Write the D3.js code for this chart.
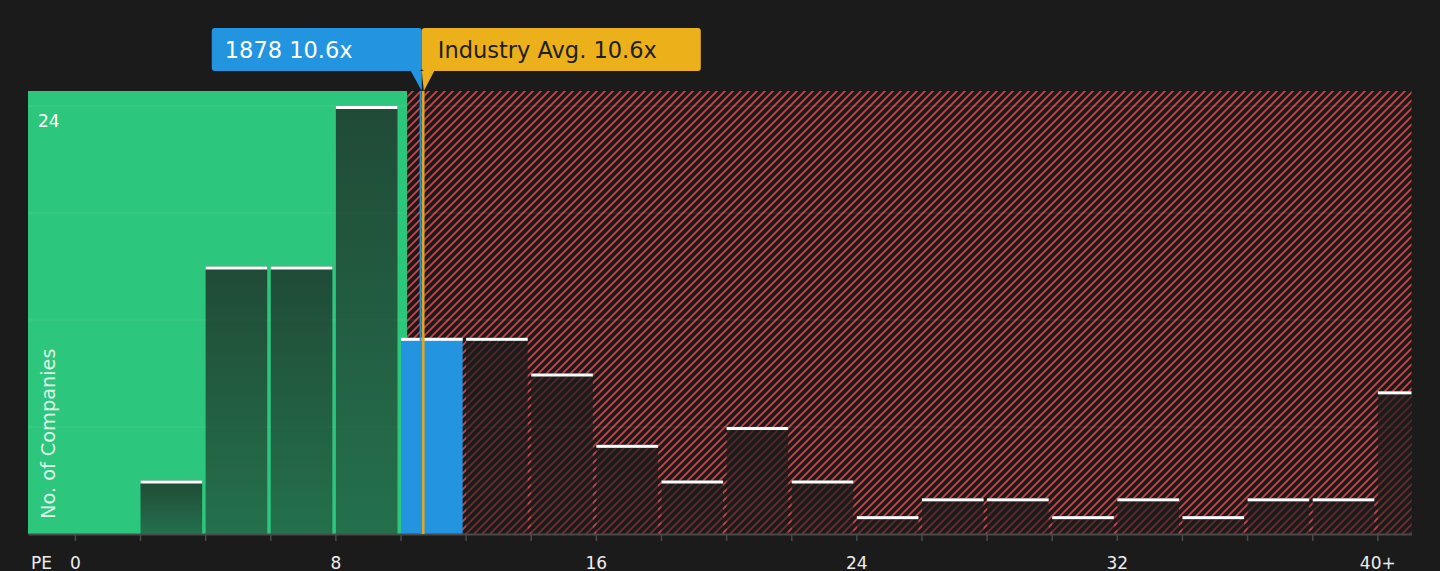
<!DOCTYPE html>
<html>
<head>
<meta charset="utf-8">
<script src="https://cdn.jsdelivr.net/npm/d3@7"></script>
<style>
  body { margin: 0; background: #1b1b1b; }
  svg { display: block; font-family: "DejaVu Sans", sans-serif; }
</style>
</head>
<body>
<svg id="chart" width="1440" height="571"></svg>
<script>
// PE bins (start of each 2-wide bin) and number of companies in each
const binStarts = [0, 2, 4, 6, 8, 10, 12, 14, 16, 18, 20, 22, 24, 26, 28, 30, 32, 34, 36, 38, 40];
const binCounts = [0, 3, 15, 15, 24, 11, 11, 9, 5, 3, 6, 3, 1, 2, 2, 1, 2, 1, 2, 2, 8];
const binWidth = 2;

const xTickValues = [0, 8, 16, 24, 32, 40];
const xTickLabels = ["0", "8", "16", "24", "32", "40+"];
const yGridValues = [6, 12, 18, 24];
const yLabelValues = [24];

const companyName = "1878";
const companyPE = 10.62;
const companyLabel = "1878 10.6x";
const industryPE = 10.7;
const industryLabel = "Industry Avg. 10.6x";
const fairLimit = 10.2; // end of the green zone

const svg = d3.select("#chart");
const plot = { left: 28, right: 1411.5, top: 91, bottom: 534 };

const x = d3.scaleLinear().domain([-1.44, 41.05]).range([plot.left, plot.right]);
const y = d3.scaleLinear().domain([0, 24.84]).range([plot.bottom, plot.top]);

// defs: hatch pattern, clip and bar gradient
const defs = svg.append("defs");
const hatch = defs.append("pattern")
  .attr("id", "hatch")
  .attr("patternUnits", "userSpaceOnUse")
  .attr("width", 8)
  .attr("height", 8);
hatch.append("rect").attr("width", 8).attr("height", 8).attr("fill", "#1b1b1b");
hatch.append("path")
  .attr("d", "M-2,2 L2,-2 M0,8 L8,0 M6,10 L10,6")
  .attr("stroke", "#c8474c")
  .attr("stroke-width", 1.7);

const grad = defs.append("linearGradient")
  .attr("id", "barGrad")
  .attr("x1", 0).attr("y1", 0).attr("x2", 0).attr("y2", 1);
grad.append("stop").attr("offset", "0%").attr("stop-color", "#1b1b1b").attr("stop-opacity", 0.72);
grad.append("stop").attr("offset", "100%").attr("stop-color", "#1b1b1b").attr("stop-opacity", 0.5);

defs.append("clipPath").attr("id", "plotClip")
  .append("rect")
  .attr("x", plot.left).attr("y", plot.top)
  .attr("width", plot.right - plot.left).attr("height", plot.bottom - plot.top);

// background zones
svg.append("rect")
  .attr("x", x(fairLimit)).attr("y", plot.top)
  .attr("width", plot.right - x(fairLimit)).attr("height", plot.bottom - plot.top)
  .attr("fill", "url(#hatch)");
svg.append("rect")
  .attr("x", plot.left).attr("y", plot.top)
  .attr("width", x(fairLimit) - plot.left).attr("height", plot.bottom - plot.top)
  .attr("fill", "#2dc67d");

// gridlines
svg.append("g")
  .selectAll("line")
  .data(yGridValues)
  .join("line")
  .attr("x1", plot.left).attr("x2", plot.right)
  .attr("y1", (d) => y(d)).attr("y2", (d) => y(d))
  .attr("stroke", "#ffffff")
  .attr("stroke-opacity", 0.1)
  .attr("stroke-width", 1);

// bars
const bins = binStarts.map((s, i) => ({ start: s, count: binCounts[i] }))
  .filter((d) => d.count > 0);
const isCompany = (d) => companyPE >= d.start && companyPE < d.start + binWidth;

const barG = svg.append("g").attr("clip-path", "url(#plotClip)");
barG.selectAll("rect.bar")
  .data(bins)
  .join("rect")
  .attr("class", "bar")
  .attr("x", (d) => x(d.start) + 0.5)
  .attr("y", (d) => y(d.count))
  .attr("width", (d) => x(d.start + binWidth) - x(d.start) - 3.5)
  .attr("height", (d) => y(0) - y(d.count))
  .attr("fill", (d) => (isCompany(d) ? "#2394e0" : "url(#barGrad)"));

barG.selectAll("rect.cap")
  .data(bins)
  .join("rect")
  .attr("class", "cap")
  .attr("x", (d) => x(d.start) + 0.5)
  .attr("y", (d) => y(d.count))
  .attr("width", (d) => x(d.start + binWidth) - x(d.start) - 3.5)
  .attr("height", 3)
  .attr("fill", "#ffffff");

// x axis
const xAxis = d3.axisBottom(x)
  .tickValues(binStarts)
  .tickSize(7)
  .tickSizeOuter(0)
  .tickFormat((d) => {
    const i = xTickValues.indexOf(d);
    return i >= 0 ? xTickLabels[i] : "";
  });

const axisG = svg.append("g")
  .attr("transform", `translate(0,${plot.bottom})`)
  .call(xAxis);
axisG.select(".domain").attr("stroke", "#4a4a4a").attr("stroke-width", 2);
axisG.selectAll(".tick line").attr("stroke", "#4a4a4a").attr("stroke-width", 1.5);
axisG.selectAll(".tick text")
  .attr("y", 35)
  .attr("dy", null)
  .attr("fill", "#eeeeee")
  .style("font-size", "17px")
  .style("font-family", "DejaVu Sans, sans-serif");

svg.append("text")
  .attr("x", 31).attr("y", plot.bottom + 35)
  .attr("fill", "#eeeeee")
  .style("font-size", "17px")
  .text("PE");

// y labels
svg.selectAll("text.ylab")
  .data(yLabelValues)
  .join("text")
  .attr("class", "ylab")
  .attr("x", 38)
  .attr("y", (d) => y(d) + 21)
  .attr("fill", "#ffffff")
  .style("font-size", "17px")
  .text((d) => d);

svg.append("text")
  .attr("transform", `translate(55,519) rotate(-90)`)
  .attr("fill", "#ffffff")
  .attr("fill-opacity", 0.85)
  .style("font-size", "19.3px")
  .text("No. of Companies");

// marker lines
svg.append("line")
  .attr("x1", x(companyPE)).attr("x2", x(companyPE))
  .attr("y1", plot.top).attr("y2", plot.bottom)
  .attr("stroke", "#2394e0").attr("stroke-width", 2);
svg.append("line")
  .attr("x1", x(industryPE)).attr("x2", x(industryPE))
  .attr("y1", plot.top).attr("y2", plot.bottom)
  .attr("stroke", "#e8a61c").attr("stroke-width", 2.5);

// top labels
const anchorX = x(industryPE) - 1.5;
const boxTop = 28, boxH = 43;

const blueG = svg.append("g");
blueG.append("path")
  .attr("d", `M${anchorX - 11},${boxTop + boxH} L${anchorX},${boxTop + boxH} L${anchorX},${plot.top} Z`)
  .attr("fill", "#2394e0");
blueG.append("rect")
  .attr("x", anchorX - 210).attr("y", boxTop)
  .attr("width", 210).attr("height", boxH)
  .attr("rx", 3)
  .attr("fill", "#2394e0");
blueG.append("text")
  .attr("x", anchorX - 197).attr("y", boxTop + 30)
  .attr("fill", "#ffffff")
  .style("font-size", "22.5px")
  .text(companyLabel);

const goldG = svg.append("g");
goldG.append("path")
  .attr("d", `M${anchorX},${boxTop + boxH} L${anchorX + 12.5},${boxTop + boxH} L${anchorX + 2},${plot.top} Z`)
  .attr("fill", "#ebb01a");
goldG.append("rect")
  .attr("x", anchorX).attr("y", boxTop)
  .attr("width", 279).attr("height", boxH)
  .attr("rx", 3)
  .attr("fill", "#ebb01a");
goldG.append("text")
  .attr("x", anchorX + 16).attr("y", boxTop + 30)
  .attr("fill", "#1e1e1e")
  .style("font-size", "22.5px")
  .text(industryLabel);
</script>
</body>
</html>
